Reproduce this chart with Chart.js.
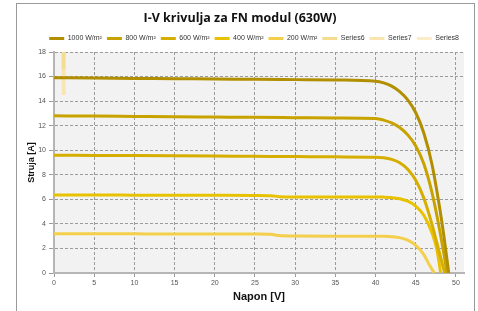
<!DOCTYPE html>
<html>
<head>
<meta charset="utf-8">
<script src="https://cdn.jsdelivr.net/npm/chart.js@4/dist/chart.umd.min.js"></script>
<style>
    html, body { margin: 0; padding: 0; background: #fff; }
    #wrap { width: 478px; height: 311px; }
</style>
</head>
<body>
<div id="wrap"><canvas id="ivChart" width="478" height="311"></canvas></div>
<script>
// I-V curves (voltage in V, current in A)
const v1000 = [0, 5, 10, 15, 20, 25, 30, 35, 40, 41, 42, 43, 44, 45, 46, 47, 48, 48.5, 49.1];
const i1000 = [15.9, 15.88, 15.85, 15.83, 15.8, 15.78, 15.75, 15.72, 15.62, 15.48, 15.22, 14.78, 14.1, 13.05, 11.4, 8.9, 5.2, 3.0, 0];

const v800 = [0, 5, 10, 15, 20, 25, 30, 35, 40, 41, 42, 43, 44, 45, 46, 47, 48, 48.9];
const i800 = [12.8, 12.78, 12.75, 12.72, 12.7, 12.68, 12.65, 12.62, 12.58, 12.45, 12.22, 11.85, 11.25, 10.35, 8.9, 6.6, 3.4, 0];

const v600 = [0, 5, 10, 15, 20, 25, 30, 35, 40, 41, 42, 43, 44, 45, 46, 47, 48, 48.6];
const i600 = [9.6, 9.58, 9.56, 9.54, 9.52, 9.5, 9.48, 9.46, 9.43, 9.38, 9.25, 8.98, 8.45, 7.55, 6.1, 4.0, 1.5, 0];

const v400 = [0, 5, 10, 15, 20, 25, 27, 28, 30, 35, 40, 41, 42, 43, 44, 45, 46, 47, 47.6, 48.1];
const i400 = [6.35, 6.35, 6.34, 6.33, 6.33, 6.32, 6.3, 6.22, 6.2, 6.2, 6.2, 6.18, 6.14, 6.05, 5.85, 5.45, 4.7, 3.3, 2.0, 0];

const v200 = [0, 5, 10, 15, 20, 25, 27, 28, 30, 35, 40, 41, 42, 43, 44, 45, 46, 46.7, 47.3];
const i200 = [3.2, 3.2, 3.19, 3.18, 3.18, 3.17, 3.15, 3.05, 3.02, 3.0, 3.0, 2.99, 2.96, 2.88, 2.68, 2.25, 1.5, 0.65, 0];

const vSeries6 = [1.2, 1.2];
const iSeries6 = [18.5, 16.6];
const vSeries7 = [1.2, 1.2];
const iSeries7 = [16.6, 14.5];

const seriesNames = ["1000 W/m²", "800 W/m²", "600 W/m²", "400 W/m²", "200 W/m²", "Series6", "Series7", "Series8"];
const seriesColors = ["#b18f00", "#c8a300", "#d5ae00", "#e8c200", "#f3cf4c", "#f6dc90", "#f8e5b0", "#fbeccb"];

const xTicks = { min: 0, max: 51, step: 5 };
const yTicks = { min: 0, max: 18, step: 2 };

function toPoints(xs, ys) {
    return xs.map((x, i) => ({ x: x, y: ys[i] }));
}

const curves = [
    toPoints(v1000, i1000),
    toPoints(v800, i800),
    toPoints(v600, i600),
    toPoints(v400, i400),
    toPoints(v200, i200),
    toPoints(vSeries6, iSeries6),
    toPoints(vSeries7, iSeries7),
    [],
];

const datasets = curves.map((pts, i) => ({
    label: seriesNames[i],
    data: pts,
    borderColor: seriesColors[i],
    backgroundColor: seriesColors[i],
    borderWidth: i >= 5 ? 4 : 3,
    fill: false,
    pointRadius: 0,
    pointHoverRadius: 0,
    cubicInterpolationMode: i >= 5 ? "default" : "monotone",
    tension: 0,
}));

// grey plot area + outer frame
const frame = {
    id: "frame",
    beforeDraw(chart) {
        const { ctx, chartArea } = chart;
        ctx.save();
        ctx.fillStyle = "#f2f2f2";
        ctx.fillRect(chartArea.left, chartArea.top, chartArea.right - chartArea.left, chartArea.bottom - chartArea.top);
        ctx.strokeStyle = "#9a9a9a";
        ctx.lineWidth = 1;
        ctx.strokeRect(16.5, 3.5, 458, 340);
        ctx.restore();
    },
};

const tickFont = { family: "'Liberation Sans', Arial, sans-serif", size: 7 };

new Chart(document.getElementById("ivChart"), {
    type: "line",
    data: { datasets: datasets },
    plugins: [frame],
    options: {
        responsive: false,
        animation: false,
        layout: { padding: { left: 16, right: 14, top: 0, bottom: 0 } },
        scales: {
            x: {
                type: "linear",
                min: xTicks.min,
                max: xTicks.max,
                afterFit: (scale) => { scale.height = 38; },
                ticks: {
                    stepSize: xTicks.step,
                    includeBounds: false,
                    font: tickFont,
                    color: "#555",
                    padding: 2,
                    maxRotation: 0,
                },
                grid: { color: "#9a9a9a", tickColor: "#9a9a9a", tickLength: 4, lineWidth: 1 },
                border: { display: true, color: "#b5b5b5", width: 2, dash: [3, 2] },
                title: {
                    display: true,
                    text: "Napon [V]",
                    color: "#111",
                    font: { family: "'Liberation Sans', Arial, sans-serif", size: 11, weight: "bold" },
                    padding: { top: 0, bottom: 7 },
                    align: "center",
                },
            },
            y: {
                min: yTicks.min,
                max: yTicks.max,
                afterFit: (scale) => { scale.width = 38; },
                ticks: {
                    stepSize: yTicks.step,
                    font: tickFont,
                    color: "#555",
                    padding: 3,
                },
                grid: { color: "#9a9a9a", tickColor: "#9a9a9a", tickLength: 5, lineWidth: 1 },
                border: { display: true, color: "#b5b5b5", width: 2, dash: [3, 2] },
                title: {
                    display: true,
                    text: "Struja [A]",
                    color: "#111",
                    font: { family: "'Liberation Sans', Arial, sans-serif", size: 9, weight: "bold" },
                    padding: { top: 10, bottom: 0 },
                },
            },
        },
        plugins: {
            title: {
                display: true,
                text: "I-V krivulja za FN modul (630W)",
                color: "#111",
                font: { family: "'Open Sans', sans-serif", size: 12.5, weight: "bold" },
                padding: { top: 10.5, bottom: 4.5 },
            },
            legend: {
                display: true,
                position: "top",
                align: "end",
                labels: {
                    boxWidth: 15,
                    boxHeight: 3,
                    padding: 5,
                    color: "#333",
                    font: tickFont,
                    generateLabels: (chart) => {
                        const items = Chart.defaults.plugins.legend.labels.generateLabels(chart);
                        return items.map((it) => Object.assign(it, { lineWidth: 0 }));
                    },
                },
            },
            tooltip: { enabled: false },
        },
    },
});
</script>
</body>
</html>
